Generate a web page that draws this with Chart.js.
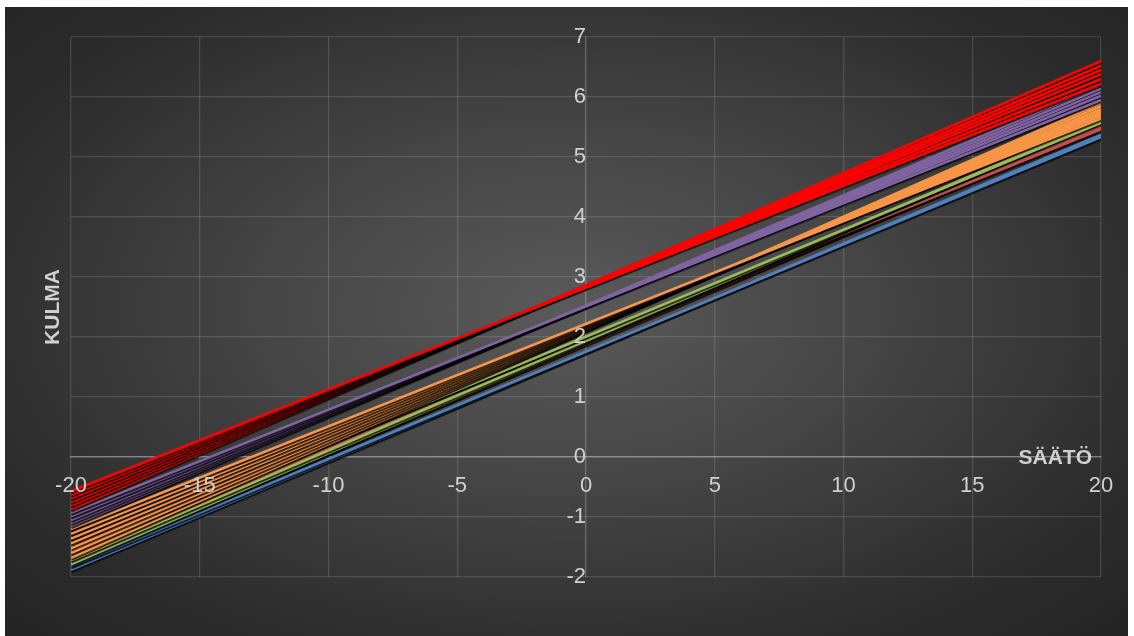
<!DOCTYPE html>
<html>
<head>
<meta charset="utf-8">
<script src="https://cdn.jsdelivr.net/npm/chart.js@4"></script>
<style>
  html, body { margin: 0; padding: 0; background: #fff; }
  #bg {
    position: absolute; left: 5px; top: 7px; width: 1123px; height: 629px;
    background: radial-gradient(ellipse farthest-corner at 50% 48%, #5a5a5a 0%, #444 40%, #2b2b2b 80%, #242424 100%);
  }
  #wrap { position: absolute; left: 5px; top: 0; width: 1127px; height: 636px; }
</style>
</head>
<body>
<div id="bg"></div>
<div id="wrap"><canvas id="myChart"></canvas></div>
<script>
// x positions of the two ends of every line
let xEnds = [-20, 20]
// values at x=-20 and x=20, one entry per line
let redLeft = [-0.57, -0.63, -0.69, -0.75, -0.81, -0.87]
let redRight = [6.22, 6.30, 6.38, 6.45, 6.52, 6.60]
let purpleLeft = [-0.93, -0.99, -1.05, -1.10, -1.15]
let purpleRight = [5.95, 6.02, 6.08, 6.14, 6.20]
let orangeLeft = [-1.20, -1.28, -1.36, -1.44, -1.52, -1.60, -1.68]
let orangeRight = [5.64, 5.68, 5.72, 5.76, 5.80, 5.85, 5.90]
let greenLeft = [-1.56, -1.72, -1.79]
let greenRight = [5.57, 5.60, 5.62]
let brownLeft = [-1.48, -1.64, -1.76]
let brownRight = [5.46, 5.49, 5.52]
let blueLeft = [-1.82, -1.88]
let blueRight = [5.33, 5.37]
let xTicks = [-20, -15, -10, -5, 0, 5, 10, 15, 20]
let yTicks = [-2, -1, 0, 1, 2, 3, 4, 5, 6, 7]

const groups = [
  [redLeft, redRight, '#ff0000'],
  [purpleLeft, purpleRight, '#8064a2'],
  [orangeLeft, orangeRight, '#f79646'],
  [greenLeft, greenRight, '#9bbb59'],
  [brownLeft, brownRight, '#c0504d'],
  [blueLeft, blueRight, '#4f81bd']
]

let datasets = []
groups.forEach(g => {
  for (let i = 0; i < g[0].length; i++) {
    datasets.push({
      data: [{x: xEnds[0], y: g[0][i]}, {x: xEnds[1], y: g[1][i]}],
      borderColor: g[2],
      borderWidth: 2.6,
      pointRadius: 0,
      fill: false,
      tension: 0
    })
  }
})

// excel style drop shadow under each line
const shadow = {
  id: 'shadow',
  beforeDatasetDraw(chart) {
    const c = chart.ctx
    c.save()
    c.shadowColor = 'rgba(0,0,0,0.8)'
    c.shadowBlur = 1
    c.shadowOffsetX = 0.5
    c.shadowOffsetY = 1.8
  },
  afterDatasetDraw(chart) {
    chart.ctx.restore()
  }
}

// axis titles
const titles = {
  id: 'titles',
  afterDraw(chart) {
    const c = chart.ctx
    const a = chart.chartArea
    const y0 = chart.scales.y.getPixelForValue(0)
    c.save()
    c.fillStyle = '#d0d0d0'
    c.font = 'bold 21px "Liberation Sans", Arial'
    c.textAlign = 'right'
    c.textBaseline = 'middle'
    c.fillText('SÄÄTÖ', a.right - 9, y0 + 1)
    c.translate(a.left - 18, (a.top + a.bottom) / 2)
    c.rotate(-Math.PI / 2)
    c.textAlign = 'center'
    c.fillText('KULMA', 0, 0)
    c.restore()
  }
}

const tickFont = {family: '"Liberation Sans", Arial', size: 22}
const gridColor = 'rgba(255,255,255,0.13)'

var ctx = document.getElementById('myChart').getContext('2d')
var chart = new Chart(ctx, {
  type: 'line',
  data: {datasets: datasets},
  plugins: [shadow, titles],
  options: {
    responsive: true,
    maintainAspectRatio: false,
    animation: false,
    layout: {padding: {left: 66, top: 37, right: 31, bottom: 59}},
    plugins: {legend: {display: false}, tooltip: {enabled: false}},
    scales: {
      x: {
        type: 'linear',
        position: {y: 0},
        min: -20, max: 20,
        afterBuildTicks: s => { s.ticks = xTicks.map(v => ({value: v})) },
        grid: {color: gridColor, lineWidth: 1.3, drawTicks: false},
        border: {color: 'rgba(255,255,255,0.3)', width: 1.5},
        // z 1 puts the labels over the lines
        ticks: {color: '#d0d0d0', font: tickFont, padding: 16, maxRotation: 0, z: 1}
      },
      y: {
        type: 'linear',
        position: {x: 0},
        min: -2, max: 7,
        afterBuildTicks: s => { s.ticks = yTicks.map(v => ({value: v})) },
        grid: {color: gridColor, lineWidth: 1.3, drawTicks: true, tickLength: 22, tickColor: 'transparent'},
        border: {color: gridColor, width: 1.3},
        ticks: {color: '#d0d0d0', font: tickFont, padding: 0, z: 1}
      }
    }
  }
})
</script>
</body>
</html>
